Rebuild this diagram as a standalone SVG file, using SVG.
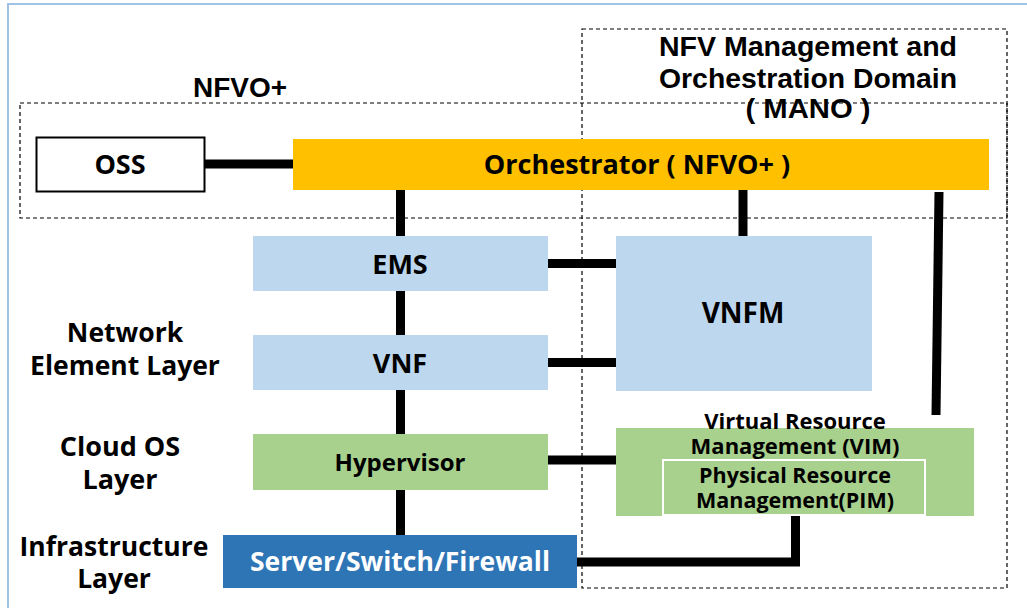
<svg xmlns="http://www.w3.org/2000/svg" width="1027" height="608" viewBox="0 0 1027 608">
<style>
  .t{font-family:"Open Sans","Noto Sans","Liberation Sans",sans-serif;font-weight:bold;fill:#000;text-anchor:middle}
  .c{font-family:"Liberation Sans","Noto Sans",sans-serif;font-weight:bold;fill:#000;text-anchor:middle}
  .dash{fill:none;stroke:#000;stroke-width:1.2;stroke-dasharray:4 3}
  .ln{stroke:#000;stroke-width:9;fill:none}
  .lb{fill:#BDD7EE}
  .gr{fill:#A9D18E}
</style>
<rect width="1027" height="608" fill="#fff"/>
<path d="M8 608 V4 H1027" fill="none" stroke="#9DC3E6" stroke-width="2"/>

<g id="mano-domain">
  <rect class="dash" x="582" y="29" width="425" height="559"/>
  <text class="c" font-size="27" x="808" y="56" textLength="298" lengthAdjust="spacingAndGlyphs">NFV Management and</text>
  <text class="c" font-size="27" x="808" y="88" textLength="298" lengthAdjust="spacingAndGlyphs">Orchestration Domain</text>
  <text class="c" font-size="27" x="808" y="118" textLength="125" lengthAdjust="spacingAndGlyphs">( MANO )</text>
</g>
<g id="nfvo-domain">
  <rect class="dash" x="20" y="103" width="987" height="115"/>
  <text class="c" font-size="27" x="240" y="97" textLength="94" lengthAdjust="spacingAndGlyphs">NFVO+</text>
</g>

<g id="connectors">
  <line class="ln" x1="205" y1="164" x2="293" y2="164"/>
  <line class="ln" x1="400.5" y1="190" x2="400.5" y2="236"/>
  <line class="ln" x1="400.5" y1="291" x2="400.5" y2="335"/>
  <line class="ln" x1="400.5" y1="390" x2="400.5" y2="434"/>
  <line class="ln" x1="400.5" y1="490" x2="400.5" y2="535"/>
  <line class="ln" x1="743" y1="190" x2="743" y2="236"/>
  <line class="ln" x1="939" y1="192" x2="936" y2="415"/>
  <line class="ln" x1="548" y1="263.5" x2="616" y2="263.5"/>
  <line class="ln" x1="548" y1="362.5" x2="616" y2="362.5"/>
  <line class="ln" x1="548" y1="460" x2="616" y2="460"/>
  <polyline class="ln" points="577,562 795.5,562 795.5,515"/>
</g>

<g id="oss">
  <rect x="36.5" y="137.5" width="168" height="54" fill="#fff" stroke="#000" stroke-width="2"/>
  <text class="t" font-size="27" x="120" y="174">OSS</text>
</g>
<g id="orchestrator">
  <rect x="293" y="139" width="696" height="51" fill="#FFC000"/>
  <text class="t" font-size="27" x="637" y="174">Orchestrator ( NFVO+ )</text>
</g>
<g id="ems">
  <rect class="lb" x="253" y="236" width="295" height="55"/>
  <text class="t" font-size="27" x="400" y="274">EMS</text>
</g>
<g id="vnf">
  <rect class="lb" x="253" y="335" width="295" height="55"/>
  <text class="t" font-size="27" x="400" y="373">VNF</text>
</g>
<g id="vnfm">
  <rect class="lb" x="616" y="236" width="256" height="155"/>
  <text class="t" font-size="28" x="743" y="323">VNFM</text>
</g>
<g id="hypervisor">
  <rect class="gr" x="253" y="434" width="295" height="56"/>
  <text class="t" font-size="24" x="400" y="471">Hypervisor</text>
</g>
<g id="vim">
  <rect class="gr" x="616" y="428" width="358" height="88"/>
  <text class="t" font-size="22" x="795" y="429">Virtual Resource</text>
  <text class="t" font-size="22" x="795" y="454">Management (VIM)</text>
</g>
<g id="pim">
  <rect class="gr" x="663" y="460" width="262" height="55" stroke="#fff" stroke-width="2"/>
  <text class="t" font-size="21.5" x="795" y="483">Physical Resource</text>
  <text class="t" font-size="21.5" x="795" y="508">Management(PIM)</text>
</g>
<g id="server">
  <rect x="223" y="535" width="354" height="53" fill="#2E75B6"/>
  <text class="t" font-size="26.5" x="400" y="571" style="fill:#fff">Server/Switch/Firewall</text>
</g>

<g id="layer-labels">
  <text class="t" font-size="26.5" x="125" y="342">Network</text>
  <text class="t" font-size="26.5" x="125" y="375">Element Layer</text>
  <text class="t" font-size="27" x="120" y="456">Cloud OS</text>
  <text class="t" font-size="27" x="120" y="489">Layer</text>
  <text class="t" font-size="26.5" x="114" y="556">Infrastructure</text>
  <text class="t" font-size="26.5" x="114" y="588">Layer</text>
</g>
</svg>
